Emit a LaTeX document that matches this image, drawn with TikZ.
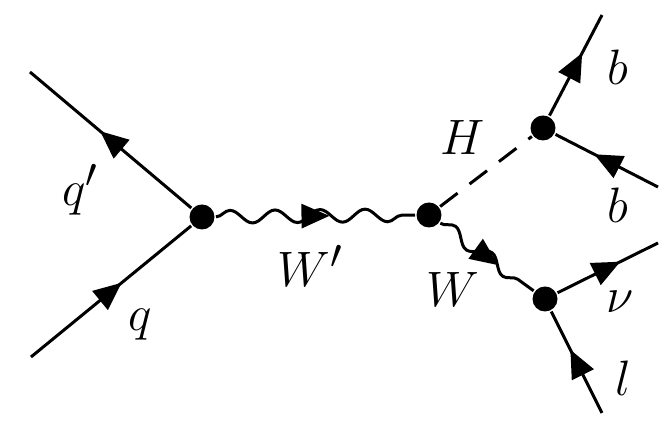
\documentclass[tikz,border=0pt]{standalone}
\usepackage{tikz}
\usetikzlibrary{arrows.meta, decorations.pathmorphing, decorations.markings}

\begin{document}
\begin{tikzpicture}[x=0.5pt,y=-0.5pt,line width=1.5pt,
  vtx/.style={circle,fill=black,inner sep=0pt,minimum size=12.5pt},
  fermion/.style={postaction={decorate},decoration={markings,
    mark=at position .5 with {\arrow[xshift=7pt]{Triangle[length=14pt,width=12pt]}}}},
  photon/.style={decorate,decoration={snake,amplitude=3.2pt,segment length=22.5pt}},
  scalar/.style={dash pattern=on 11pt off 7.5pt},
  lbl/.style={font=\fontsize{29}{33}\selectfont}]
\useasboundingbox (0,0) rectangle (671,421);
% vertices
\node[vtx] (v1) at (202,217) {};
\node[vtx] (v2) at (429,215) {};
\node[vtx] (v3) at (543,128) {};
\node[vtx] (v4) at (545,299) {};
% external legs
\coordinate (qp)  at (30,72);
\coordinate (qin) at (31,357);
\coordinate (bt)  at (602,15);
\coordinate (bb)  at (658,187);
\coordinate (nu)  at (658,243);
\coordinate (lep) at (602,413);
% incoming quarks
\draw[fermion] (v1) -- (qp);
\draw[fermion] (qin) -- (v1);
% W' propagator
\draw[photon] (v1) -- (v2);
\path[fermion] (v1) -- (v2);
% Higgs and W
\draw[scalar] (v2) -- (v3);
\draw[photon] (v2) -- (v4);
\path[fermion] (v2) -- (v4);
% decay products
\draw[fermion] (v3) -- (bt);
\draw[fermion] (bb) -- (v3);
\draw[fermion] (v4) -- (nu);
\draw[fermion] (lep) -- (v4);
% labels
\node[lbl] (lqp) at (80,190)  {$q'$};
\node[lbl] (lq)  at (140,325) {$q$};
\node[lbl] (lwp) at (310,266) {$W'$};
\node[lbl] (lh)  at (463,138) {$H$};
\node[lbl] (lbt) at (618,67)  {$b$};
\node[lbl] (lbb) at (618,205) {$b$};
\node[lbl] (lw)  at (453,290) {$W$};
\node[lbl] (lnu) at (620,302) {$\nu$};
\node[lbl] (ll)  at (623,378) {$l$};
\end{tikzpicture}
\end{document}
